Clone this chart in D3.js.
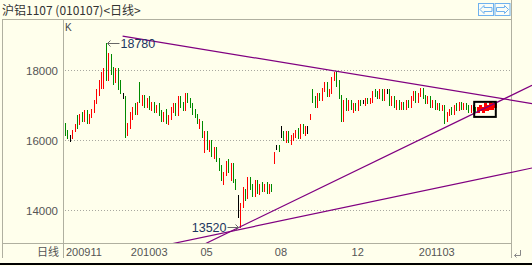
<!DOCTYPE html>
<html><head><meta charset="utf-8">
<script src="https://cdn.jsdelivr.net/npm/d3@7"></script>
<style>html,body{margin:0;padding:0;background:#FFFFEC;overflow:hidden}</style>
</head><body><svg id="c" width="532" height="266"></svg>
<script>
const title = "沪铝1107 (010107)<日线>";
const periodLabel = "日线";
const openP = [16450,16200,16050,16100,16300,16650,16500,16700,16600,16800,
16550,16700,16850,17100,17400,17650,17600,18600,17800,18350,
17950,17700,18000,17500,17250,17200,16200,16400,16750,16900,
16800,17550,17150,17250,17000,17150,16950,17050,16850,16950,
16750,16600,16750,16550,16650,16900,17000,16750,17200,17000,
16900,17300,17150,17000,16800,16700,16450,16500,15700,16200,
15800,15950,15600,15750,15450,15200,14900,15050,15350,14900,
15300,14850,14150,13600,14150,14550,14400,14900,14650,14450,
14800,14550,14700,14600,14700,14550,14700,15350,15800,15800,
16200,16200,16050,16200,16000,16100,16150,16250,16100,16400,
16250,16300,16650,17400,17150,17000,17300,17200,17450,17600,
17300,17400,17750,17950,17600,17250,16600,17100,16900,17100,
16850,17000,16900,17100,17100,17100,17150,17100,17150,17350,
17300,17250,17400,17200,17400,17400,17050,17200,17000,17100,
16950,17050,16950,17100,17000,17200,17350,17150,17300,17450,
17250,17100,17200,17000,17100,16950,17000,16900,16950,16600,
16750,16850,16800,16950,16900,17050,16950,17000,16950,16850,
16950,16900,16850,16900,16850,16900,16900,16950,16950,17000];
const highP = [16500,16300,16150,16300,16450,16700,16750,16800,16850,16850,
16750,16900,17150,17450,17700,17950,18050,18780,18500,18450,
18100,18050,18050,17700,17350,17250,16500,16800,16950,17050,
17100,17650,17300,17300,17200,17250,17100,17100,17000,17050,
16850,16800,16900,16700,16950,17050,17050,17250,17250,17100,
17350,17350,17200,17050,16900,16750,16600,16550,16250,16250,
16000,16000,15800,15800,15500,15300,15100,15400,15450,15350,
15350,14900,14430,14200,14650,14600,14950,14950,14750,14850,
14850,14750,14800,14750,14800,14750,14750,15650,15850,15850,
16400,16250,16250,16250,16150,16200,16300,16350,16450,16450,
16400,16400,16750,17450,17250,17350,17350,17500,17650,17650,
17450,17800,17950,17960,17700,17300,17150,17200,17150,17150,
17050,17050,17150,17150,17150,17200,17200,17200,17400,17450,
17400,17450,17450,17450,17450,17450,17250,17250,17150,17150,
17100,17100,17150,17150,17250,17400,17400,17350,17500,17500,
17300,17250,17250,17150,17150,17050,17050,17000,17000,16800,
16900,16950,17000,17050,17100,17100,17050,17050,17000,17000,
17000,16950,16950,17000,16950,17050,17000,17100,17050,17100];
const lowP = [16150,16050,15980,16050,16250,16350,16450,16550,16550,16500,
16500,16650,16800,17050,17300,17500,17500,17700,17700,17900,
17600,17650,17450,17350,17200,16100,16150,16350,16600,16750,
16750,17100,17000,16950,16950,16900,16850,16800,16800,16700,
16550,16550,16500,16450,16600,16800,16700,16700,16950,16850,
16850,17100,16950,16750,16650,16500,16350,16100,15650,15750,
15700,15550,15500,15400,15150,14850,14750,15000,15100,14850,
14800,14600,13800,13520,14100,14300,14350,14600,14400,14400,
14500,14450,14550,14550,14500,14500,14550,15330,15750,15700,
16100,16000,15950,15950,15900,16000,16100,16050,16050,16200,
16150,16200,16600,17100,16950,16950,17150,17150,17400,17250,
17250,17350,17700,17550,17200,16550,16550,16850,16850,16900,
16800,16850,16850,17000,17050,17000,17050,17050,17100,17250,
17200,17200,17150,17150,17350,17000,17000,16950,16900,16900,
16900,16900,16900,16950,16950,17150,17100,17100,17250,17200,
17050,17050,16950,16950,16900,16900,16850,16850,16500,16550,
16700,16750,16750,16850,16850,16900,16900,16900,16800,16800,
16850,16800,16800,16850,16800,16850,16850,16900,16900,16950];
const closeP = [16200,16100,16050,16250,16400,16400,16700,16600,16800,16550,
16700,16850,17100,17400,17650,17900,18000,17750,18350,17950,
17700,18000,17500,17400,17250,16200,16450,16750,16900,16800,
17050,17150,17250,17000,17150,16950,17050,16850,16950,16750,
16600,16750,16550,16650,16900,17000,16750,17200,17000,16900,
17300,17150,17000,16800,16700,16550,16500,16150,16200,15800,
15950,15600,15750,15450,15200,14900,15050,15350,15150,15300,
14850,14700,14150,14150,14550,14400,14900,14650,14450,14800,
14550,14700,14600,14700,14550,14700,14650,15600,15800,15750,
16200,16050,16200,16000,16100,16150,16250,16100,16400,16250,
16350,16300,16700,17150,17000,17300,17200,17450,17600,17300,
17400,17750,17900,17600,17250,16600,17100,16900,17100,16950,
17000,16900,17100,17050,17100,17150,17100,17150,17350,17300,
17250,17400,17200,17400,17400,17050,17200,17000,17100,16950,
17050,16950,17100,17000,17200,17350,17150,17300,17450,17250,
17100,17200,17000,17100,16950,17000,16900,16950,16600,16750,
16850,16800,16950,16900,17050,16950,17000,16950,16850,16950,
16900,16850,16900,16950,16900,17000,16950,17050,17000,17050];
const monthLabels = ["200911","201003","05","08","12","201103"];
const monthIndex = [0,27,56,87,119,147];
const priceTicks = [14000,16000,18000];
const peakIndex = 17, peakPrice = 18780;
const troughIndex = 73, troughPrice = 13520;
const trendUpper = [[24,18970],[112,17975]];
const trendSteep = [[73,13520],[180,17077]];
const trendShallow = [[73,13446],[180,14990]];
const highlightFrom = 172;
const boxIdx = [170.5,179.5], boxPrice = [16660,17090];

const W=532,H=266;
const svg=d3.select("#c");
const bg="#FFFFEC", lineC="#b0b0a0";
svg.append("rect").attr("width",W).attr("height",H).attr("fill",bg);

const x=d3.scaleLinear().domain([0,179]).range([65,494.6]);
const y=d3.scaleLinear().domain([14000,18000]).range([210,70]);
const px=i=>Math.round(x(i))+0.5;

// frame
const fr=svg.append("g").attr("stroke",lineC).attr("stroke-width",1).attr("shape-rendering","crispEdges");
fr.append("line").attr("x1",2).attr("x2",512).attr("y1",19.5).attr("y2",19.5);
fr.append("line").attr("x1",2.5).attr("x2",2.5).attr("y1",19).attr("y2",258);
fr.append("line").attr("x1",63.5).attr("x2",63.5).attr("y1",19).attr("y2",258);
fr.append("line").attr("x1",511.5).attr("x2",511.5).attr("y1",0).attr("y2",258);
fr.append("line").attr("x1",2).attr("x2",512).attr("y1",243.5).attr("y2",243.5);
svg.append("rect").attr("x",0).attr("y",263).attr("width",W).attr("height",2).attr("fill","#000");

// title
svg.append("text").attr("x",2).attr("y",15).attr("font-family","'Noto Sans CJK SC'").attr("font-size",12).attr("fill","#333").text(title);
svg.append("text").attr("x",65).attr("y",31).attr("font-family","'Liberation Sans'").attr("font-size",10).attr("fill","#444").text("K");

// buttons
[[478,-1],[494.5,1]].forEach(([bx,dir])=>{
  svg.append("rect").attr("x",bx+0.5).attr("y",3.5).attr("width",15).attr("height",12).attr("fill","#fbfdf6").attr("stroke","#6fb1ee");
  const cx=bx+8, cy=9.5;
  const pts=[[-6,0],[-2,-4],[-2,-2],[6,-2],[6,2],[-2,2],[-2,4]].map(([a,b])=>[cx+a*(dir<0?1:-1), cy+b]);
  svg.append("path").attr("d",d3.line()(pts)+"Z").attr("fill","none").attr("stroke","#6fb1ee");
});

// grid + y labels
priceTicks.forEach(p=>{
  svg.append("line").attr("x1",65).attr("x2",511).attr("y1",Math.round(y(p))+0.5).attr("y2",Math.round(y(p))+0.5)
    .attr("stroke","#a8a8a0").attr("stroke-dasharray","1,2").attr("shape-rendering","crispEdges");
  svg.append("text").attr("x",58).attr("y",y(p)+4.5).attr("text-anchor","end").attr("font-family","'Liberation Sans'").attr("font-size",11.5).attr("fill","#555").text(p);
});

// x labels
monthLabels.forEach((t,k)=>{
  svg.append("text").attr("x",x(monthIndex[k])+1).attr("y",255.5).attr("font-family","'Liberation Sans'").attr("font-size",11).attr("fill","#555").text(t);
});
svg.append("text").attr("x",59).attr("y",255.5).attr("text-anchor","end").attr("font-family","'Noto Sans CJK SC'").attr("font-size",11).attr("fill","#555").text(periodLabel);
// return glyph
svg.append("path").attr("d","M520.5,250V255.5H514.5M516.5,253.5L514.5,255.5L516.5,257.5").attr("fill","none").attr("stroke","#888");

const clip=svg.append("clipPath").attr("id","pc").append("rect").attr("x",64).attr("y",20).attr("width",W-64).attr("height",223);
const plot=svg.append("g").attr("clip-path","url(#pc)");

// candles
const idx=d3.range(openP.length);
const col=i=>closeP[i]>openP[i]?"#ff0000":(closeP[i]<openP[i]?"#008a00":"#000");
plot.append("g").selectAll("line").data(idx).join("line")
  .attr("x1",i=>px(i)).attr("x2",i=>px(i))
  .attr("y1",i=>Math.round(y(highP[i]))).attr("y2",i=>Math.round(y(lowP[i]))+1)
  .attr("stroke",i=>i>=highlightFrom?"#ff0000":col(i))
  .attr("stroke-width",i=>i>=highlightFrom?3:1)
  .attr("shape-rendering","crispEdges");

// trend lines
function tl(seg, fromStart){
  const [a,b]=seg;
  const x1=x(a[0]),y1=y(a[1]),x2=x(b[0]),y2=y(b[1]);
  const s=(y2-y1)/(x2-x1);
  const xs=fromStart?x1:64, xe=W;
  return [[xs,y1+s*(xs-x1)],[xe,y1+s*(xe-x1)]];
}
[[trendUpper,true],[trendSteep,false],[trendShallow,false]].forEach(([seg,f])=>{
  plot.append("path").attr("d",d3.line()(tl(seg,f))).attr("stroke","#800080").attr("stroke-width",1.2).attr("fill","none");
});

// highlight box
plot.append("rect").attr("x",x(boxIdx[0])).attr("y",y(boxPrice[1])).attr("width",x(boxIdx[1])-x(boxIdx[0])).attr("height",y(boxPrice[0])-y(boxPrice[1]))
  .attr("fill","none").attr("stroke","#000").attr("stroke-width",2);

// annotations
const ac="#666", tc="#1c3660";
const py=Math.round(y(peakPrice))+0.5;
svg.append("path").attr("d",`M${px(peakIndex)+1},${py}H${px(peakIndex)+13}M${px(peakIndex)+4},${py-3}L${px(peakIndex)+1},${py}L${px(peakIndex)+4},${py+3}`).attr("stroke",ac).attr("fill","none");
svg.append("text").attr("x",px(peakIndex)+14).attr("y",py+4.5).attr("font-family","'Liberation Sans'").attr("font-size",12.5).attr("fill",tc).text(peakPrice);
const ty=Math.round(y(troughPrice))+0.5;
svg.append("path").attr("d",`M${px(troughIndex)-2},${ty}H${px(troughIndex)-13}M${px(troughIndex)-5},${ty-3}L${px(troughIndex)-2},${ty}L${px(troughIndex)-5},${ty+3}`).attr("stroke",ac).attr("fill","none");
svg.append("text").attr("x",px(troughIndex)-14).attr("y",ty+4.5).attr("text-anchor","end").attr("font-family","'Liberation Sans'").attr("font-size",12.5).attr("fill",tc).text(troughPrice);
</script></body></html>
